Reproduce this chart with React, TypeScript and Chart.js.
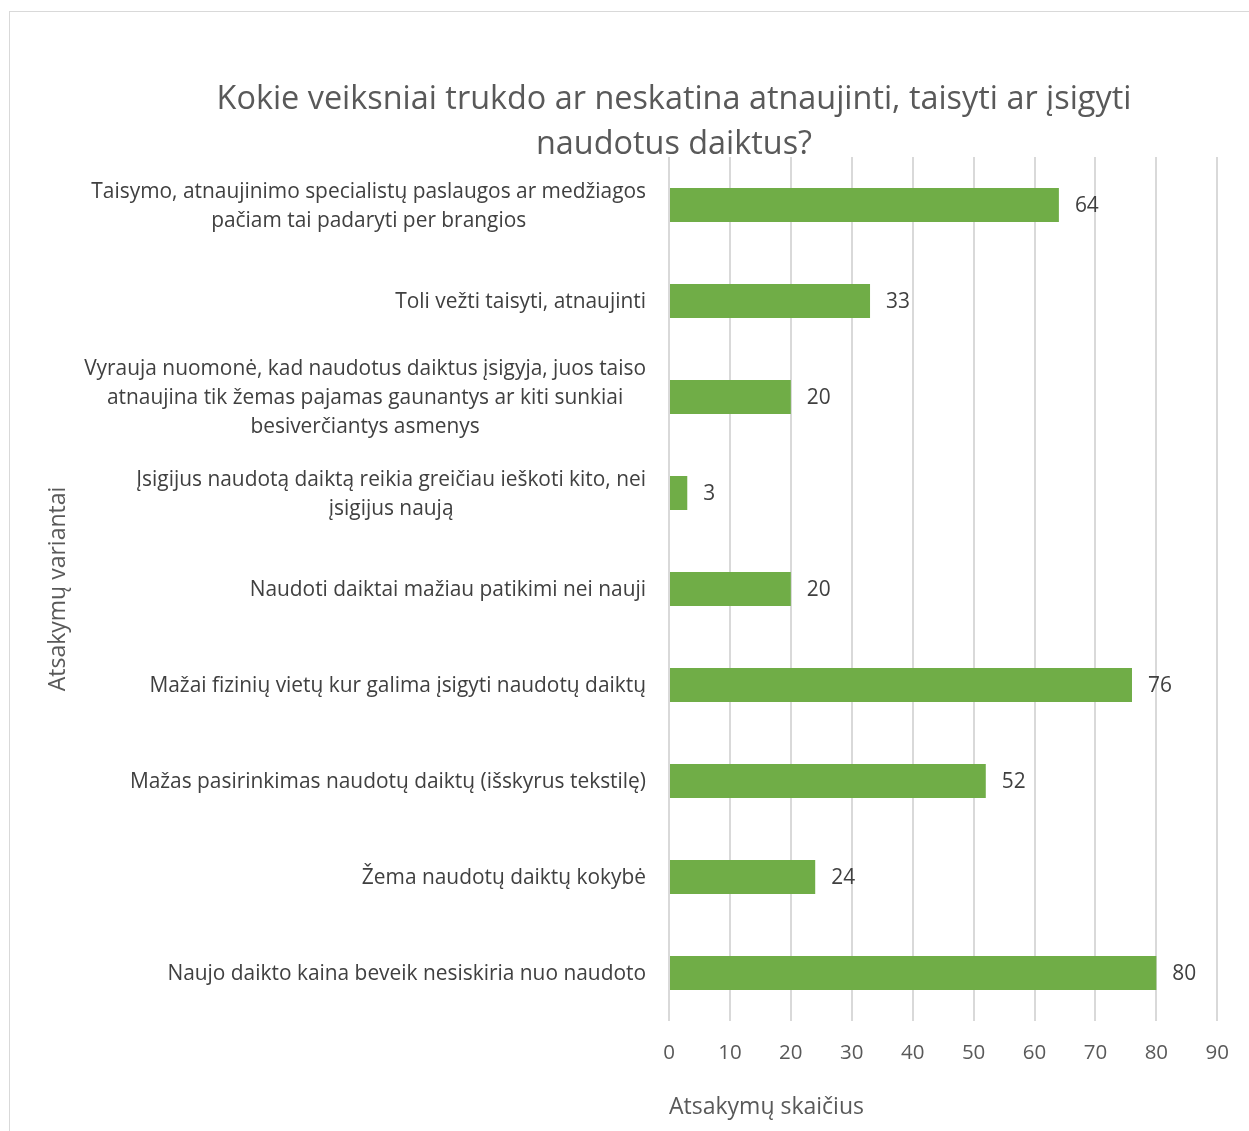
import React, { useEffect, useRef } from "react";
import { Chart, registerables } from "chart.js";

Chart.register(...registerables);

const categories: string[][] = [
  ["Taisymo, atnaujinimo specialistų paslaugos ar medžiagos", "pačiam tai padaryti per brangios"],
  ["Toli vežti taisyti, atnaujinti"],
  ["Vyrauja nuomonė, kad naudotus daiktus įsigyja, juos taiso", "atnaujina tik žemas pajamas gaunantys ar kiti sunkiai", "besiverčiantys asmenys"],
  ["Įsigijus naudotą daiktą reikia greičiau ieškoti kito, nei", "įsigijus naują"],
  ["Naudoti daiktai mažiau patikimi nei nauji"],
  ["Mažai fizinių vietų kur galima įsigyti naudotų daiktų"],
  ["Mažas pasirinkimas naudotų daiktų (išskyrus tekstilę)"],
  ["Žema naudotų daiktų kokybė"],
  ["Naujo daikto kaina beveik nesiskiria nuo naudoto"],
];
const values: number[] = [64, 33, 20, 3, 20, 76, 52, 24, 80];
const titleLines: string[] = ["Kokie veiksniai trukdo ar neskatina atnaujinti, taisyti ar įsigyti", "naudotus daiktus?"];
const xTitle = "Atsakymų skaičius";
const yTitle = "Atsakymų variantai";
const xMin = 0;
const xMax = 90;
const xStep = 10;

const FONT = "'Open Sans'";

export default function App() {
  const ref = useRef<HTMLCanvasElement>(null);
  useEffect(() => {
    if (!ref.current) return;
    const customDraw = {
      id: "customDraw",
      beforeDraw(chart: any) {
        const ctx = chart.ctx;
        ctx.save();
        ctx.fillStyle = "#ffffff";
        ctx.fillRect(0, 0, chart.width, chart.height);
        ctx.strokeStyle = "#d9d9d9";
        ctx.lineWidth = 1;
        ctx.strokeRect(9.5, 11.5, chart.width + 10, chart.height + 10);
        ctx.restore();
      },
      afterDraw(chart: any) {
        const ctx = chart.ctx;
        const area = chart.chartArea;
        const yScale = chart.scales.y;
        ctx.save();
        // title
        ctx.fillStyle = "#595959";
        ctx.font = `32.4px ${FONT}`;
        ctx.textAlign = "center";
        ctx.textBaseline = "middle";
        titleLines.forEach((t, i) => ctx.fillText(t, 674, 100 + i * 45));
        // category labels (lines centered within a right-aligned block)
        ctx.font = `20.9px ${FONT}`;
        ctx.fillStyle = "#404040";
        const lh = 29;
        categories.forEach((lines, i) => {
          const yc = yScale.getPixelForValue(i) + 1.5;
          const maxW = Math.max(...lines.map((l) => ctx.measureText(l).width));
          const cx = area.left - 23 - maxW / 2;
          lines.forEach((l, j) => {
            ctx.fillText(l, cx, yc + (j - (lines.length - 1) / 2) * lh);
          });
        });
        // value labels
        const meta = chart.getDatasetMeta(0);
        ctx.textAlign = "left";
        meta.data.forEach((bar: any, i: number) => {
          ctx.fillText(String(values[i]), bar.x + 16, bar.y + 1.5);
        });
        ctx.restore();
      },
    };
    const chart = new Chart(ref.current, {
      type: "bar",
      data: {
        labels: categories.map((c) => c.join(" ")),
        datasets: [
          {
            data: values,
            backgroundColor: "#70AD47",
            barPercentage: 0.354,
            categoryPercentage: 1,
          },
        ],
      },
      options: {
        indexAxis: "y",
        animation: false,
        responsive: false,
        layout: { padding: { top: 157, right: 31, left: 0, bottom: 0 } },
        plugins: {
          legend: { display: false },
          title: { display: false },
          tooltip: { enabled: false },
        },
        scales: {
          x: {
            min: xMin,
            max: xMax,
            ticks: {
              stepSize: xStep,
              padding: 20,
              color: "#595959",
              font: { family: FONT, size: 20.5 },
            },
            grid: { color: "#d9d9d9", lineWidth: 2, drawTicks: false },
            border: { display: false },
            title: {
              display: true,
              text: xTitle,
              align: "start",
              color: "#595959",
              font: { family: FONT, size: 23 },
              padding: { top: 0, bottom: 10 },
            },
            afterFit(scale: any) {
              scale.height = 110;
            },
          },
          y: {
            ticks: { display: false },
            grid: { display: false },
            border: { display: false },
            title: {
              display: true,
              text: yTitle,
              align: "center",
              color: "#595959",
              font: { family: FONT, size: 23 },
              padding: { top: 45, bottom: 0 },
            },
            afterFit(scale: any) {
              scale.width = 669;
            },
          },
        },
      },
      plugins: [customDraw],
    });
    return () => chart.destroy();
  }, []);
  return (
    <div style={{ position: "fixed", left: 0, top: 0, width: 1249, height: 1131, background: "#fff" }}>
      <canvas ref={ref} width={1249} height={1131} />
    </div>
  );
}
